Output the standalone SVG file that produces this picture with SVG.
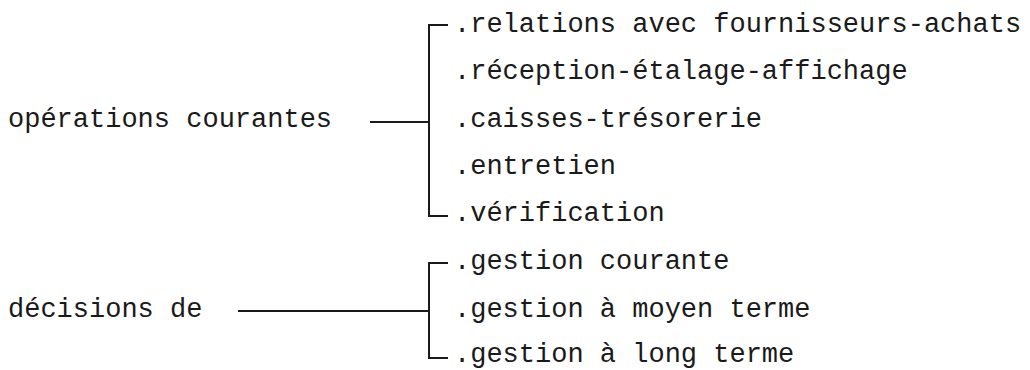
<svg xmlns="http://www.w3.org/2000/svg" width="1030" height="370" viewBox="0 0 1030 370">
<style>
text{font-family:"Liberation Mono","DejaVu Sans Mono",monospace;font-size:27px;fill:#1a1a1a}
.c{stroke:#1a1a1a;stroke-width:2;fill:none}
</style>
<rect width="1030" height="370" fill="#fff"/>
<g id="connectors">
<path class="c" d="M370 122H429M448 25H429V216H448"/>
<path class="c" d="M238 311H429M448 263H429V358H448"/>
</g>
<g id="n-operations"><text x="8" y="127">opérations courantes</text></g>
<g id="n-relations"><text x="454" y="32">.relations avec fournisseurs-achats</text></g>
<g id="n-reception"><text x="454" y="79">.réception-étalage-affichage</text></g>
<g id="n-caisses"><text x="454" y="127">.caisses-trésorerie</text></g>
<g id="n-entretien"><text x="454" y="174">.entretien</text></g>
<g id="n-verification"><text x="454" y="221">.vérification</text></g>
<g id="n-decisions"><text x="8" y="317">décisions de</text></g>
<g id="n-courante"><text x="454" y="269">.gestion courante</text></g>
<g id="n-moyen"><text x="454" y="317">.gestion à moyen terme</text></g>
<g id="n-long"><text x="454" y="362">.gestion à long terme</text></g>
</svg>
